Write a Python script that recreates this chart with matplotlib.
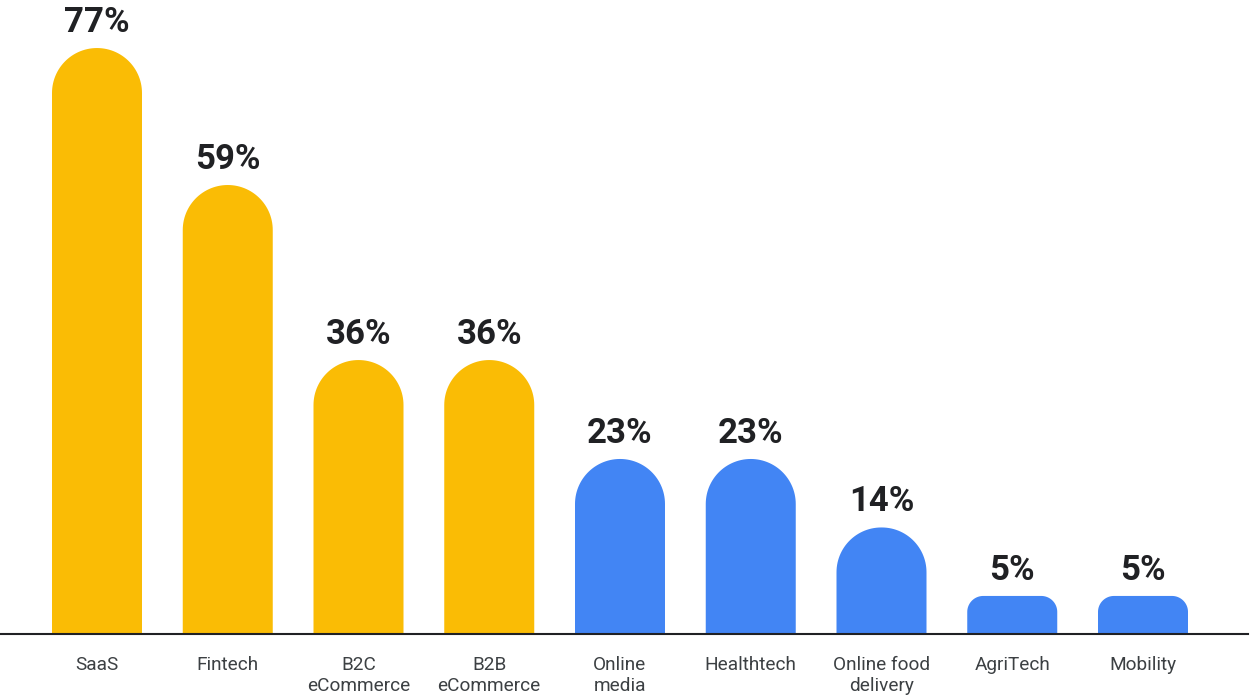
import numpy as np
import matplotlib
matplotlib.use('Agg')
import matplotlib.pyplot as plt
from matplotlib.patches import Polygon

# data
categories = ['SaaS', 'Fintech', 'B2C\neCommerce', 'B2B\neCommerce', 'Online\nmedia',
              'Healthtech', 'Online food\ndelivery', 'AgriTech', 'Mobility']
values = [77, 59, 36, 36, 23, 23, 14, 5, 5]
highlight = [True, True, True, True, False, False, False, False, False]

YELLOW = '#FABC05'
BLUE = '#4285F4'
DARK = '#202124'

plt.rcParams['font.family'] = ['Roboto', 'DejaVu Sans']

W, H = 1250, 696
fig = plt.figure(figsize=(W / 100, H / 100), dpi=100)
base_px = 62  # baseline from bottom
ax = fig.add_axes([0, base_px / H, 1248 / W, 1 - base_px / H])

step = 130.75
x = np.arange(len(values))
xlim = (-97 / step, (1248 - 97) / step)
ylim = (0, 634 / 7.61)
ax.set_xlim(*xlim)
ax.set_ylim(*ylim)

# pixels per data unit
px_x = 1248 / (xlim[1] - xlim[0])
px_y = (H - base_px) / (ylim[1] - ylim[0])

bw = 90 / px_x
t = np.linspace(0, np.pi / 2, 30)
for xi, v, hl in zip(x, values, highlight):
    h_px = v * px_y
    r_px = min(45, h_px * 0.42)
    rx, ry = r_px / px_x, r_px / px_y
    x0, x1 = xi - bw / 2, xi + bw / 2
    pts = [(x0, 0), (x1, 0)]
    # right corner
    pts += [(x1 - rx + rx * np.cos(a), v - ry + ry * np.sin(a)) for a in t]
    # left corner
    pts += [(x0 + rx - rx * np.cos(a), v - ry + ry * np.sin(a)) for a in t[::-1]]
    ax.add_patch(Polygon(pts, closed=True, facecolor=YELLOW if hl else BLUE,
                         edgecolor='none'))
    ax.annotate(f'{v}%', (xi, v), xytext=(0, 11.5), textcoords='offset points',
                ha='center', va='baseline', fontsize=25, fontweight='bold',
                color=DARK)

for s in ['top', 'left', 'right']:
    ax.spines[s].set_visible(False)
ax.spines['bottom'].set_color(DARK)
ax.spines['bottom'].set_linewidth(1.5)
ax.set_yticks([])
ax.set_xticks(x)
ax.set_xticklabels(categories, fontsize=13.7, color='#3C4043', linespacing=1.25)
ax.tick_params(axis='x', length=0, pad=15.5)

fig.savefig('out.png', dpi=100)
